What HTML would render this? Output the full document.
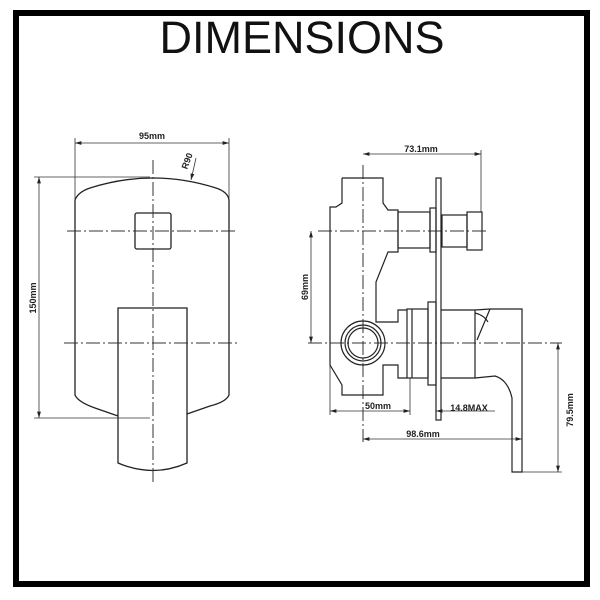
<!DOCTYPE html>
<html><head><style>body{margin:0;background:#fff}svg{display:block}</style></head><body>
<svg width="600" height="600" viewBox="0 0 600 600" xmlns="http://www.w3.org/2000/svg" font-family="Liberation Sans, Arial, sans-serif">
<defs>
<marker id="a" viewBox="0 0 10 6" refX="10" refY="3" markerWidth="8" markerHeight="5" orient="auto-start-reverse"><path d="M0,0L10,3L0,6z" fill="#222"/></marker>
</defs>
<rect x="16" y="13" width="571" height="571" fill="#fff" stroke="#000" stroke-width="6"/>
<text x="302" y="53" font-size="45" text-anchor="middle" fill="#111">DIMENSIONS</text>

<g fill="none" stroke="#222" stroke-width="1.3">
<!-- left view body -->
<path d="M75,200 Q78,192 90,188 Q153,168 216,188 Q228,192 229,200 L229,395 Q226,402 210,406 L187,414"/>
<path d="M75,200 L75,395 Q78,402 95,408 L118,416"/>
<rect x="135" y="213" width="36" height="36" rx="2"/>
<path d="M118,308 L187,308 L187,463 Q153,478 118,463 Z"/>
</g>
<g stroke="#333" stroke-width="1" stroke-dasharray="14,3,2,3" fill="none">
<line x1="153" y1="160" x2="153" y2="482"/>
<line x1="67" y1="231" x2="235" y2="231"/>
<line x1="64" y1="343" x2="240" y2="343"/>
<line x1="363" y1="165" x2="363" y2="442"/>
<line x1="318" y1="231" x2="486" y2="231"/>
<line x1="308" y1="343" x2="562" y2="343"/>
</g>
<g stroke="#333" stroke-width="0.8" fill="none">
<line x1="75" y1="138" x2="75" y2="200"/><line x1="229" y1="138" x2="229" y2="200"/>
<line x1="75" y1="143" x2="229" y2="143" marker-start="url(#a)" marker-end="url(#a)"/>
<line x1="34" y1="177" x2="150" y2="177"/><line x1="34" y1="418" x2="150" y2="418"/>
<line x1="39" y1="177" x2="39" y2="418" marker-start="url(#a)" marker-end="url(#a)"/>
<line x1="196" y1="158" x2="191" y2="180" marker-end="url(#a)"/>
<!-- right dims -->
<line x1="481" y1="150" x2="481" y2="212"/>
<line x1="363" y1="154" x2="481" y2="154" marker-start="url(#a)" marker-end="url(#a)"/>
<line x1="311" y1="231" x2="311" y2="343" marker-start="url(#a)" marker-end="url(#a)"/>
<line x1="522" y1="472" x2="562" y2="472"/>
<line x1="558" y1="343" x2="558" y2="472" marker-start="url(#a)" marker-end="url(#a)"/>
<line x1="330" y1="365" x2="330" y2="415"/><line x1="410" y1="378" x2="410" y2="415"/>
<line x1="330" y1="411" x2="410" y2="411" marker-start="url(#a)" marker-end="url(#a)"/>
<line x1="436" y1="411" x2="495" y2="411" marker-start="url(#a)"/>
<line x1="363" y1="439" x2="522" y2="439" marker-start="url(#a)" marker-end="url(#a)"/>
</g>
<g font-size="9" font-weight="bold" fill="#222">
<text x="152" y="139" text-anchor="middle">95mm</text>
<text x="190" y="162" transform="rotate(-70 190 162)" text-anchor="middle">R90</text>
<text x="36" y="298" transform="rotate(-90 36 298)" text-anchor="middle">150mm</text>
<text x="421" y="152" text-anchor="middle">73.1mm</text>
<text x="308" y="287" transform="rotate(-90 308 287)" text-anchor="middle">69mm</text>
<text x="378" y="409" text-anchor="middle">50mm</text>
<text x="469" y="411" text-anchor="middle">14.8MAX</text>
<text x="423" y="437" text-anchor="middle">98.6mm</text>
<text x="573" y="410" transform="rotate(-90 573 410)" text-anchor="middle">79.5mm</text>
</g>
<!-- right view -->
<g fill="none" stroke="#222" stroke-width="1.2">
<path d="M342,178 L383,178 L383,203 L388,210 L398,210 L398,252 L388,252 L376,282 L376,322 L398,322 L398,310 L407,310"/>
<path d="M342,178 L342,203 L336,207 L330,207 L330,365 L342,385 L342,395 L383,395 L383,365 L398,365 L398,378 L407,378"/>
<rect x="398" y="212" width="32" height="36"/>
<rect x="430" y="208" width="6" height="44"/>
<rect x="436" y="178" width="5" height="242"/>
<rect x="442" y="215" width="25" height="32"/>
<rect x="467" y="212" width="15" height="38"/>
<circle cx="363" cy="343" r="22"/><circle cx="363" cy="343" r="18"/><circle cx="363" cy="343" r="15"/>
<rect x="407" y="309" width="21" height="69"/>
<line x1="412" y1="309" x2="412" y2="378"/>
<rect x="428" y="302" width="8" height="83"/>
<path d="M441,310 L475,310 L475,378 L441,378"/>
<path d="M475,310 L490,309 L522,309 L522,472 L512,472 L512,398 Q508,380 495,376 L475,378"/>
<path d="M490,309 L477,340"/>
<path d="M475,313 Q484,315 488,322"/>
</g>
</svg>
</body></html>
